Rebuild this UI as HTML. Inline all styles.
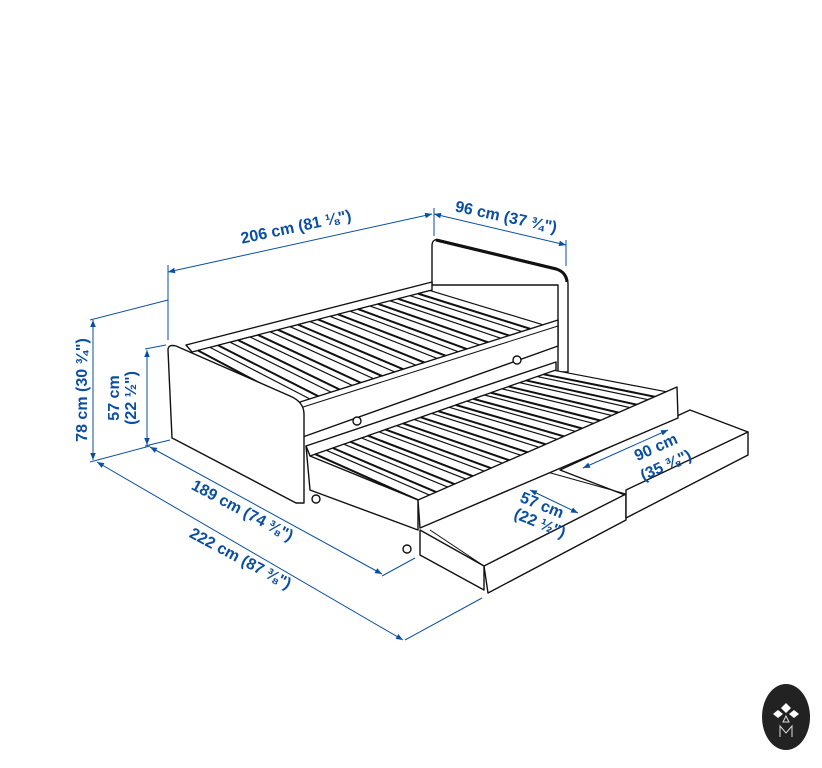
<!DOCTYPE html>
<html><head><meta charset="utf-8"><style>
html,body{margin:0;padding:0;background:#fff;}
svg{display:block}
text{font-family:"Liberation Sans",sans-serif;font-weight:bold;fill:#0a4fa0;font-size:16px}
</style></head><body>
<svg id="s" width="822" height="768" viewBox="0 0 822 768" xmlns="http://www.w3.org/2000/svg">
<defs>
<marker id="a" viewBox="0 0 10 10" refX="10" refY="5" markerWidth="7" markerHeight="7" orient="auto-start-reverse"><path d="M0,1 L10,5 L0,9 z" fill="#0a4fa0"/></marker>
</defs>
<g fill="#fff" stroke="#111" stroke-width="1.4" stroke-linejoin="round" id="bed">
<path d="M432,285 L432,246 Q432,238 440,240 L556,268 Q568,272 568,284 L568,372 L558,372 L558,285 Z"/>
<path d="M436,240 L556,269 Q566,272 567,282" stroke-width="3" fill="none"/>
<path d="M186,345 L432,282 L432,290 L192,352 Z"/>
<g id="mslats"></g>
<path d="M300,402 L558,320 L558,346 L300,438 Z"/>
<path d="M300,408 L558,326" stroke-width="1"/>
<circle cx="357" cy="421" r="4"/><circle cx="517" cy="360" r="4"/>
<path d="M306,446 L556,362 L556,370 L310,456 Z"/>
<g id="tslats"></g>
<path d="M306,446 L310,490 L418,530 L418,500 L310,456 Z"/>
<circle cx="316" cy="499" r="4"/><circle cx="407" cy="549" r="4"/>
<path d="M420,530 L420,555 L484,590 L484,566 Z"/>
<path d="M560,470 L625,495 L748,432 L690,410 Z"/>
<path d="M484,566 L626,494 L626,520 L488,593 Z"/>
<path d="M626,490 L748,432 L748,455 L626,518 Z"/>
<path d="M540,470 L626,494" stroke-width="1"/>
<path d="M430,530 L484,566" stroke-width="1"/>
<path d="M418,500 L677,387 L678,418 L420,528 Z"/>
<path d="M168,350 Q168,344 176,346 L290,396 Q304,402 304,414 L304,503 L296,503 L176,440 L172,438 Z"/>
</g>
<g stroke="#0a4fa0" stroke-width="1" fill="none">
<line x1="168" y1="272" x2="432" y2="214" marker-start="url(#a)" marker-end="url(#a)"/>
<line x1="168" y1="265" x2="168" y2="340"/>
<line x1="434" y1="214" x2="566" y2="245" marker-start="url(#a)" marker-end="url(#a)"/>
<line x1="434" y1="208" x2="434" y2="236"/><line x1="566" y1="240" x2="566" y2="266"/>
<line x1="93" y1="320" x2="93" y2="460" marker-start="url(#a)" marker-end="url(#a)"/>
<line x1="90" y1="320" x2="168" y2="300"/><line x1="90" y1="462" x2="150" y2="446"/>
<line x1="147" y1="350" x2="147" y2="445" marker-start="url(#a)" marker-end="url(#a)"/>
<line x1="145" y1="349" x2="166" y2="345"/><line x1="145" y1="446" x2="170" y2="440"/>
<line x1="150" y1="447" x2="382" y2="574" marker-start="url(#a)" marker-end="url(#a)"/>
<line x1="382" y1="576" x2="415" y2="558"/>
<line x1="97" y1="462" x2="403" y2="640" marker-start="url(#a)" marker-end="url(#a)"/>
<line x1="405" y1="640" x2="482" y2="598"/>
<line x1="530" y1="490" x2="578" y2="513" marker-start="url(#a)" marker-end="url(#a)"/>
<line x1="583" y1="468" x2="668" y2="430" marker-start="url(#a)" marker-end="url(#a)"/>
</g>
<text transform="translate(297,232) rotate(-12)" text-anchor="middle">206 cm (81 ⅛")</text>
<text transform="translate(505,222) rotate(12)" text-anchor="middle">96 cm (37 ¾")</text>
<text transform="translate(87,390) rotate(-90)" text-anchor="middle">78 cm (30 ¾")</text>
<text transform="translate(119,398) rotate(-90)" text-anchor="middle">57 cm</text>
<text transform="translate(136,398) rotate(-90)" text-anchor="middle">(22 ½")</text>
<text transform="translate(240,515) rotate(28)" text-anchor="middle">189 cm (74 ⅜")</text>
<text transform="translate(238,563) rotate(28)" text-anchor="middle">222 cm (87 ⅜")</text>
<text transform="translate(540,510) rotate(22)" text-anchor="middle">57 cm</text>
<text transform="translate(538,528) rotate(22)" text-anchor="middle">(22 ½")</text>
<text transform="translate(658,452) rotate(-24)" text-anchor="middle">90 cm</text>
<text transform="translate(668,470) rotate(-24)" text-anchor="middle">(35 ⅜")</text>
<ellipse cx="786" cy="717" rx="24" ry="33" fill="#222"/>
<path d="M786,703 L791,708 L786,713 L781,708 Z M778,710 L783,714 L778,718 L773,714 Z M794,710 L799,714 L794,718 L789,714 Z" fill="#fff"/>
<path d="M780,737 L780,726 L786,733 L792,726 L792,737 M783,722 L786,716 L789,722 Z" stroke="#ddd" fill="none" stroke-width="1"/>
</svg>
<script>
var NS="http://www.w3.org/2000/svg";
function slats(g,A,B,C,D,n,w){
 var el=document.getElementById(g);
 for(var i=0;i<n;i++){
  var t=(i+0.3)/n, t2=t+w;
  function L(P,Q,u){return [P[0]+(Q[0]-P[0])*u,P[1]+(Q[1]-P[1])*u];}
  var p1=L(A,B,t),p2=L(A,B,t2),q1=L(C,D,t),q2=L(C,D,t2);
  var p=document.createElementNS(NS,"path");
  p.setAttribute("d","M"+q1+" L"+p1+" L"+p2+" L"+q2+" Z");
  p.setAttribute("fill","#fff");p.setAttribute("stroke-width","1.2");
  el.appendChild(p);
  var l=document.createElementNS(NS,"path");
  l.setAttribute("d","M"+q1+" L"+p1);l.setAttribute("stroke-width","2");
  el.appendChild(l);
 }
}
slats("mslats",[300,410],[558,328],[192,352],[432,290],12,0.05);
slats("tslats",[418,505],[677,393],[310,456],[556,370],14,0.045);
</script>
</body></html>
